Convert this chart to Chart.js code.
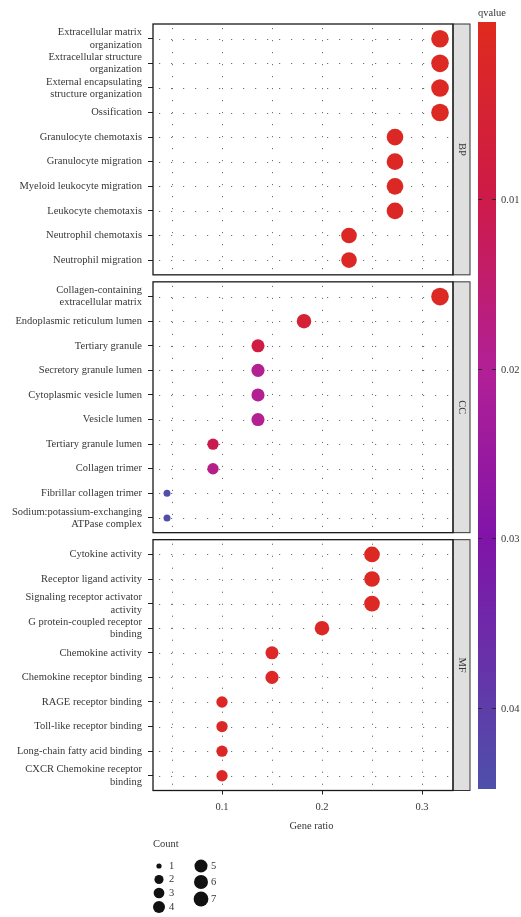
<!DOCTYPE html>
<html>
<head>
<meta charset="utf-8">
<script src="https://cdn.jsdelivr.net/npm/chart.js@4.4.1/dist/chart.umd.min.js"></script>
<style>
  html, body { margin: 0; padding: 0; background: #ffffff; }
  #wrap { width: 521px; height: 917px; position: relative; }
</style>
</head>
<body>
<div id="wrap"><canvas id="chart" width="521" height="917"></canvas></div>
<script>
// ---- Enrichment results (GO), one block per ontology ----
const ontologies = ['BP', 'CC', 'MF'];

const bpTerms = ['Extracellular matrix organization', 'Extracellular structure organization',
  'External encapsulating structure organization', 'Ossification', 'Granulocyte chemotaxis',
  'Granulocyte migration', 'Myeloid leukocyte migration', 'Leukocyte chemotaxis',
  'Neutrophil chemotaxis', 'Neutrophil migration'];
const bpCount = [7, 7, 7, 7, 6, 6, 6, 6, 5, 5];
const bpRatio = [0.318, 0.318, 0.318, 0.318, 0.273, 0.273, 0.273, 0.273, 0.227, 0.227];
const bpQvalue = [0.0007, 0.0007, 0.0007, 0.0009, 0.0011, 0.0011, 0.0011, 0.0012, 0.0016, 0.0016];

const ccTerms = ['Collagen-containing extracellular matrix', 'Endoplasmic reticulum lumen',
  'Tertiary granule', 'Secretory granule lumen', 'Cytoplasmic vesicle lumen', 'Vesicle lumen',
  'Tertiary granule lumen', 'Collagen trimer', 'Fibrillar collagen trimer',
  'Sodium:potassium-exchanging ATPase complex'];
const ccCount = [7, 4, 3, 3, 3, 3, 2, 2, 1, 1];
const ccRatio = [0.318, 0.182, 0.136, 0.136, 0.136, 0.136, 0.091, 0.091, 0.045, 0.045];
const ccQvalue = [0.0010, 0.0055, 0.0085, 0.0195, 0.0195, 0.0195, 0.0110, 0.0185, 0.0437, 0.0437];

const mfTerms = ['Cytokine activity', 'Receptor ligand activity', 'Signaling receptor activator activity',
  'G protein-coupled receptor binding', 'Chemokine activity', 'Chemokine receptor binding',
  'RAGE receptor binding', 'Toll-like receptor binding', 'Long-chain fatty acid binding',
  'CXCR Chemokine receptor binding'];
const mfCount = [5, 5, 5, 4, 3, 3, 2, 2, 2, 2];
const mfRatio = [0.25, 0.25, 0.25, 0.20, 0.15, 0.15, 0.10, 0.10, 0.10, 0.10];
const mfQvalue = [0.0010, 0.0010, 0.0010, 0.0012, 0.0014, 0.0014, 0.0016, 0.0016, 0.0016, 0.0016];

const xTicks = [0.1, 0.2, 0.3];
const xMinorTicks = [0.05, 0.15, 0.25];
const qTicks = [0.01, 0.02, 0.03, 0.04];
const countLevels = [1, 2, 3, 4, 5, 6, 7];

// ---- styling ----
const FONT = "'Liberation Serif', 'DejaVu Serif', serif";
const FS = 10.5;
const TEXT = '#363636';
const groups = [
  { terms: bpTerms, count: bpCount, ratio: bpRatio, q: bpQvalue },
  { terms: ccTerms, count: ccCount, ratio: ccRatio, q: ccQvalue },
  { terms: mfTerms, count: mfCount, ratio: mfRatio, q: mfQvalue }
];

// panel geometry in y-units: each row is one unit, 0.6 expansion at both ends
const EXPAND = 0.6, GAP = 0.285;
const span = n => n - 1 + 2 * EXPAND;
const panelStarts = [];
let acc = 0;
groups.forEach(g => { panelStarts.push(acc); acc += span(g.terms.length) + GAP; });
const Y_MAX = acc - GAP;

// wrap long labels at 30 characters
function wrap(s, width = 30) {
  const words = s.split(' '); const lines = []; let cur = '';
  words.forEach(w => {
    if (!cur) cur = w;
    else if ((cur + ' ' + w).length <= width) cur += ' ' + w;
    else { lines.push(cur); cur = w; }
  });
  if (cur) lines.push(cur);
  return lines.length === 1 ? lines[0] : lines;
}

// colour scale for q-values (red -> magenta -> purple -> blue)
const colourStops = [
  [-0.0005, [223, 43, 30]], [0.01, [205, 26, 72]], [0.02, [178, 32, 150]],
  [0.03, [128, 20, 168]], [0.0448, [78, 80, 170]]
];
function qColour(q) {
  for (let i = 0; i < colourStops.length - 1; i++) {
    const [a, ca] = colourStops[i], [b, cb] = colourStops[i + 1];
    if (q <= b || i === colourStops.length - 2) {
      const t = Math.max(0, Math.min(1, (q - a) / (b - a)));
      const c = ca.map((v, k) => Math.round(v + (cb[k] - v) * t));
      return `rgb(${c[0]},${c[1]},${c[2]})`;
    }
  }
}
const radius = c => 3.5 + 5.3 * Math.sqrt((c - 1) / 6);
const legendRadius = c => 2.6 + 4.8 * Math.sqrt((c - 1) / 6);

// build row positions, labels and bubble points from the arrays
const rowValues = [], rowLabels = [], points = [];
groups.forEach((g, gi) => {
  g.terms.forEach((t, i) => {
    const yv = panelStarts[gi] + EXPAND + i;
    rowValues.push(yv);
    rowLabels.push(wrap(t));
    points.push({ x: g.ratio[i], y: yv, r: radius(g.count[i]), q: g.q[i] });
  });
});

const panelPlugin = {
  id: 'facetPanels',
  beforeDatasetsDraw(chart) {
    const { ctx, chartArea: a, scales: { x, y } } = chart;
    ctx.save();
    ctx.strokeStyle = '#6f6f6f';
    ctx.lineWidth = 1;
    ctx.setLineDash([1.2, 10.8]);
    groups.forEach((g, gi) => {
      const top = y.getPixelForValue(panelStarts[gi]);
      const bot = y.getPixelForValue(panelStarts[gi] + span(g.terms.length));
      g.terms.forEach((t, i) => {
        const yy = Math.round(y.getPixelForValue(panelStarts[gi] + EXPAND + i)) + 0.5;
        ctx.beginPath(); ctx.moveTo(a.left + 6, yy); ctx.lineTo(a.right, yy); ctx.stroke();
      });
      xTicks.concat(xMinorTicks).forEach(v => {
        const xx = Math.round(x.getPixelForValue(v)) + 0.5;
        ctx.beginPath(); ctx.moveTo(xx, top + 4); ctx.lineTo(xx, bot); ctx.stroke();
      });
    });
    ctx.restore();
  },
  afterDatasetsDraw(chart) {
    const { ctx, chartArea: a, scales: { y } } = chart;
    ctx.save();
    groups.forEach((g, gi) => {
      const top = y.getPixelForValue(panelStarts[gi]);
      const bot = y.getPixelForValue(panelStarts[gi] + span(g.terms.length));
      // strip on the right
      ctx.fillStyle = '#e0dfdf';
      ctx.fillRect(a.right, top, 17, bot - top);
      ctx.strokeStyle = '#333333'; ctx.lineWidth = 1;
      ctx.strokeRect(a.right, top, 17, bot - top);
      // panel border
      ctx.strokeStyle = '#1a1a1a'; ctx.lineWidth = 1.3;
      ctx.strokeRect(a.left, top, a.right - a.left, bot - top);
      // strip label
      ctx.save();
      ctx.translate(a.right + 8.5, (top + bot) / 2);
      ctx.rotate(Math.PI / 2);
      ctx.fillStyle = TEXT; ctx.font = `${FS}px ${FONT}`;
      ctx.textAlign = 'center'; ctx.textBaseline = 'middle';
      ctx.fillText(ontologies[gi], 0, 0);
      ctx.restore();
    });
    ctx.restore();
  },
  afterDraw(chart) {
    const { ctx, chartArea: a } = chart;
    ctx.save();
    ctx.fillStyle = TEXT;
    ctx.font = `${FS}px ${FONT}`;
    // axis title
    ctx.textAlign = 'center'; ctx.textBaseline = 'middle';
    ctx.fillText('Gene ratio', (a.left + a.right + 17) / 2, 826);

    // colour bar
    const bx = 478, bw = 18, bt = 22, bb = 789;
    const qTop = -0.00047, qBot = 0.04478;
    const qToY = q => bt + (q - qTop) / (qBot - qTop) * (bb - bt);
    const grad = ctx.createLinearGradient(0, bt, 0, bb);
    for (let k = 0; k <= 40; k++) {
      const q = qTop + (qBot - qTop) * k / 40;
      grad.addColorStop(k / 40, qColour(q));
    }
    ctx.fillStyle = grad;
    ctx.fillRect(bx, bt, bw, bb - bt);
    ctx.strokeStyle = '#2a2a2a'; ctx.lineWidth = 1;
    qTicks.forEach(q => {
      const yy = Math.round(qToY(q)) + 0.5;
      ctx.beginPath(); ctx.moveTo(bx, yy); ctx.lineTo(bx + 4, yy); ctx.stroke();
      ctx.beginPath(); ctx.moveTo(bx + bw - 4, yy); ctx.lineTo(bx + bw, yy); ctx.stroke();
      ctx.fillStyle = TEXT; ctx.textAlign = 'left'; ctx.textBaseline = 'middle';
      ctx.fillText(q.toFixed(2), bx + bw + 5, yy + 1);
    });
    ctx.fillStyle = TEXT; ctx.textAlign = 'left'; ctx.textBaseline = 'middle';
    ctx.fillText('qvalue', bx, 13);

    // size legend
    ctx.textAlign = 'left'; ctx.textBaseline = 'middle';
    ctx.fillText('Count', 153, 844);
    const slots = [
      [159, 866], [159, 879.5], [159, 893], [159, 907],
      [201, 866], [201, 882], [201, 899]
    ];
    countLevels.forEach((c, i) => {
      const [cx, cy] = slots[i];
      ctx.fillStyle = '#111111';
      ctx.beginPath(); ctx.arc(cx, cy, legendRadius(c), 0, Math.PI * 2); ctx.fill();
      ctx.fillStyle = TEXT;
      ctx.fillText(String(c), cx + 10, cy);
    });
    ctx.restore();
  }
};

new Chart(document.getElementById('chart'), {
  type: 'bubble',
  data: {
    datasets: [{
      data: points,
      backgroundColor: ctx => qColour(ctx.raw ? ctx.raw.q : 0),
      borderWidth: 0,
      hoverBorderWidth: 0
    }]
  },
  options: {
    responsive: false,
    animation: false,
    devicePixelRatio: 1,
    layout: { padding: { top: 24, right: 68, left: 0, bottom: 0 } },
    plugins: { legend: { display: false }, tooltip: { enabled: false } },
    scales: {
      x: {
        type: 'linear', min: 0.031, max: 0.331,
        afterBuildTicks: s => { s.ticks = xTicks.map(v => ({ value: v })); },
        afterFit: s => { s.height = 126.5; },
        ticks: { callback: v => v.toFixed(1), font: { family: FONT, size: FS }, color: TEXT, padding: 6, maxRotation: 0, autoSkip: false },
        grid: { drawOnChartArea: false, tickLength: 4, color: '#222222', lineWidth: 1 },
        border: { display: false }
      },
      y: {
        type: 'linear', min: 0, max: Y_MAX, reverse: true,
        afterBuildTicks: s => { s.ticks = rowValues.map(v => ({ value: v })); },
        afterFit: s => { s.width = 153; },
        ticks: {
          autoSkip: false,
          callback: (v, i) => rowLabels[i],
          font: { family: FONT, size: FS, lineHeight: 1.17 },
          color: TEXT, padding: 6
        },
        grid: { drawOnChartArea: false, tickLength: 5, color: '#222222', lineWidth: 1 },
        border: { display: false }
      }
    }
  },
  plugins: [panelPlugin]
});
</script>
</body>
</html>
